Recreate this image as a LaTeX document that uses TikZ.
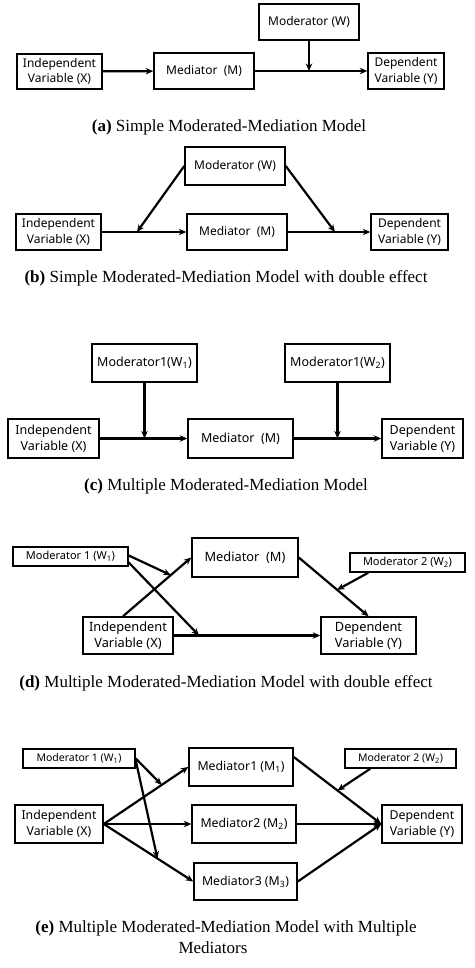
\documentclass[tikz,border=0pt]{standalone}
\usepackage{fontspec}
\setmainfont{Liberation Serif}
\newfontfamily\boxfont{Noto Sans}
\usetikzlibrary{arrows.meta,calc}
\begin{document}
\begin{tikzpicture}[x=1pt,y=-1pt,
  box/.style={draw, line width=1.5pt, inner sep=0pt, align=center},
  fs/.style={font=\boxfont\fontsize{#1}{15.5}\selectfont},
  sz/.style 2 args={minimum width=#1pt, minimum height=#2pt},
  arr/.style={-{Stealth[length=7.5pt,width=6.5pt]}, line width=2.2pt},
  captxt/.style={font=\fontsize{17}{20}\selectfont, inner sep=0pt}]
\useasboundingbox[fill=white] (0,0) rectangle (474,968);

% ---------- (a)
\begin{scope}[every node/.append style={fs=12}]
\node[box, sz={85}{35}] (a-x) at (59.5,71.5) {Independent\\Variable (X)};
\node[box, sz={100}{36}] (a-m) at (204,71) {Mediator~~(M)};
\node[box, sz={100}{36}] (a-w) at (309,22) {Moderator (W)};
\node[box, sz={76}{36}] (a-y) at (406,71) {Dependent\\Variable (Y)};
\end{scope}
\coordinate (a-j) at (a-w.south |- a-m.east);
\draw[arr] (a-x) -- (a-m);
\draw[arr] (a-m) -- (a-y);
\draw[arr] (a-w) -- (a-j);
\node[captxt] (a-cap) at (229,127) {\textbf{(a)} Simple Moderated-Mediation Model};

% ---------- (b)
\begin{scope}[every node/.append style={fs=12}]
\node[box, sz={100}{38}] (b-w) at (235,166) {Moderator (W)};
\node[box, sz={85}{36}] (b-x) at (58.5,232) {Independent\\Variable (X)};
\node[box, sz={100}{36}] (b-m) at (237,232) {Mediator~~(M)};
\node[box, sz={77}{36}] (b-y) at (409.5,232) {Dependent\\Variable (Y)};
\end{scope}
\coordinate (b-j1) at (137,232);
\coordinate (b-j2) at (335,232);
\draw[arr] (b-x) -- (b-m);
\draw[arr] (b-m) -- (b-y);
\draw[arr] (b-w.west) -- (b-j1);
\draw[arr] (b-w.east) -- (b-j2);
\node[captxt] (b-cap) at (226,278) {\textbf{(b)} Simple Moderated-Mediation Model with double effect};

% ---------- (c)
\begin{scope}[every node/.append style={fs=12.5}]
\node[box, sz={105}{38}] (c-w1) at (144.5,363) {Moderator1(W\textsubscript{1})};
\node[box, sz={105}{38}] (c-w2) at (337.5,363) {Moderator1(W\textsubscript{2})};
\node[box, sz={91}{39}] (c-x) at (53.5,438.5) {Independent\\Variable (X)};
\node[box, sz={105}{39}] (c-m) at (240.5,438.5) {Mediator~~(M)};
\node[box, sz={81}{39}] (c-y) at (422.5,438.5) {Dependent\\Variable (Y)};
\end{scope}
\coordinate (c-j1) at (c-w1.south |- c-m.west);
\coordinate (c-j2) at (c-w2.south |- c-m.east);
\draw[arr] (c-x) -- (c-m);
\draw[arr] (c-m) -- (c-y);
\draw[arr] (c-w1) -- (c-j1);
\draw[arr] (c-w2) -- (c-j2);
\node[captxt] (c-cap) at (226,486) {\textbf{(c)} Multiple Moderated-Mediation Model};

% ---------- (d)
\begin{scope}[every node/.append style={fs=12.8}]
\node[box, sz={115}{19}, fs=11] (d-w1) at (70.5,556.5) {Moderator 1 (W\textsubscript{1})};
\node[box, sz={106}{39}] (d-m) at (245,557.5) {Mediator~~(M)};
\node[box, sz={115}{19}, fs=11] (d-w2) at (407.5,562.5) {Moderator 2 (W\textsubscript{2})};
\node[box, sz={90}{37}] (d-x) at (128,635.5) {Independent\\Variable (X)};
\node[box, sz={95}{37}] (d-y) at (368.5,635.5) {Dependent\\Variable (Y)};
\end{scope}
\coordinate (d-xs) at ([xshift=-5pt]d-x.north);
\coordinate (d-j1) at ($(d-xs)!0.7!(d-m.west)$);
\coordinate (d-j2) at (199,635.5);
\coordinate (d-j3) at ($(d-m.east)!0.55!(d-y.north)$);
\draw[arr] (d-xs) -- (d-m.west);
\draw[arr] (d-x) -- (d-y);
\draw[arr] (d-m.east) -- (d-y.north);
\draw[arr] ([yshift=1pt]d-w1.east) -- (d-j1);
\draw[arr] ([yshift=-6pt]d-w1.east) -- (d-j2);
\draw[arr] ([xshift=19pt]d-w2.south west) -- (d-j3);
\node[captxt] (d-cap) at (226,683) {\textbf{(d)} Multiple Moderated-Mediation Model with double effect};

% ---------- (e)
\begin{scope}[every node/.append style={fs=12.3}]
\node[box, sz={112}{19}, fs=10.5] (e-w1) at (79,758.5) {Moderator 1 (W\textsubscript{1})};
\node[box, sz={104}{38}] (e-m1) at (241,767) {Mediator1 (M\textsubscript{1})};
\node[box, sz={111}{19}, fs=10.5] (e-w2) at (400.5,758.5) {Moderator 2 (W\textsubscript{2})};
\node[box, sz={88}{38}] (e-x) at (59,824) {Independent\\Variable (X)};
\node[box, sz={104}{38}] (e-m2) at (244,824) {Mediator2 (M\textsubscript{2})};
\node[box, sz={80}{38}] (e-y) at (422,824) {Dependent\\Variable (Y)};
\node[box, sz={103}{37}] (e-m3) at (245.5,881.5) {Mediator3 (M\textsubscript{3})};
\end{scope}
\coordinate (e-m1s) at ([yshift=10pt]e-m1.east);
\coordinate (e-j1) at ($(e-x.east)!0.686!(e-m1.west)$);
\coordinate (e-j2) at ($(e-x.east)!0.6!(e-m3.west)$);
\coordinate (e-j3) at ($(e-m1s)!0.5!(e-y.west)$);
\draw[arr] (e-x.east) -- (e-m1.west);
\draw[arr] (e-x.east) -- (e-m2.west);
\draw[arr] (e-x.east) -- (e-m3.west);
\draw[arr] (e-m1s) -- (e-y.west);
\draw[arr] (e-m2.east) -- (e-y.west);
\draw[arr] (e-m3.east) -- (e-y.west);
\draw[arr] (e-w1.east) -- (e-j1);
\draw[arr] ([yshift=-2pt]e-w1.east) -- (e-j2);
\draw[arr] ([xshift=26pt]e-w2.south west) -- (e-j3);
\node[captxt] (e-cap1) at (226,928) {\textbf{(e)} Multiple Moderated-Mediation Model with Multiple};
\node[captxt] (e-cap2) at (213,948) {Mediators};
\end{tikzpicture}
\end{document}
